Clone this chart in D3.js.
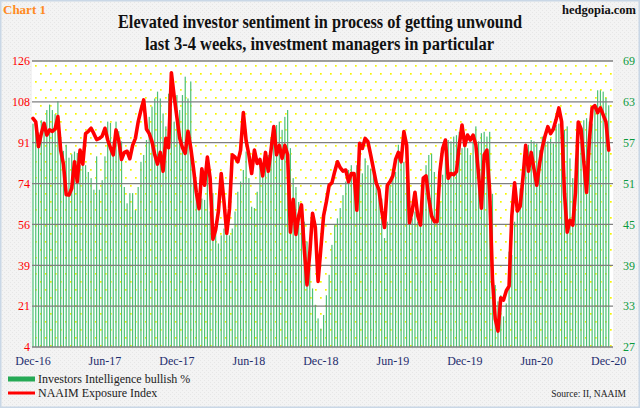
<!DOCTYPE html>
<html><head><meta charset="utf-8">
<script src="https://cdn.jsdelivr.net/npm/d3@7/dist/d3.min.js"></script>
<style>html,body{margin:0;padding:0;background:#fff;}svg{display:block;}</style>
</head><body>
<svg id="c" width="640" height="408"></svg>
<script>
const xTickLabels = ["Dec-16","Jun-17","Dec-17","Jun-18","Dec-18","Jun-19","Dec-19","Jun-20","Dec-20"];
const xTickIndex = [0,26,52,78,104,130,156,182,208];
const leftTicks = [4,21,39,56,74,91,108,126];
const rightTicks = [27,33,39,45,51,57,63,69];

// Investors Intelligence bullish % (weekly, right axis)
const iiBullish = [
 59.8,59.5,58.5,60.3,60.0,61.8,62.6,61.8,61.2,63.1,
 57.5,55.8,56.7,54.8,55.3,55.7,55.5,53.7,54.2,53.7,
 52.7,51.8,50.1,55.0,50.1,51.5,55.0,60.1,59.9,57.2,
 60.1,58.7,57.2,50.5,48.1,49.6,49.6,47.1,50.5,54.2,
 55.2,57.4,60.8,62.3,63.5,64.5,63.5,61.3,59.4,64.2,
 62.0,60.1,64.0,61.8,64.0,66.7,63.5,66.0,54.5,51.3,
 47.4,48.8,48.6,52.7,46.9,49.6,45.4,42.2,43.4,44.4,
 45.4,43.4,44.4,46.9,49.8,51.3,53.0,55.7,51.8,47.6,
 47.4,49.8,53.7,53.2,53.7,55.2,57.6,58.1,59.6,60.1,
 58.9,60.8,61.8,56.2,51.8,50.5,48.3,46.9,45.4,42.5,
 38.6,35.6,33.2,31.2,29.7,31.7,34.6,37.6,42.0,44.9,
 45.9,47.4,49.3,51.3,53.0,53.7,52.7,53.7,54.0,52.5,
 54.7,53.7,53.2,54.2,51.3,49.8,48.8,43.0,45.4,50.8,
 53.2,52.7,56.7,55.7,54.2,54.7,47.4,45.9,46.9,45.4,
 46.9,50.3,53.7,55.2,55.4,52.7,47.4,48.3,52.3,54.7,
 57.4,57.2,57.9,58.1,58.6,56.2,58.1,56.2,55.2,57.2,
 59.4,57.2,58.4,58.6,57.9,58.6,49.5,36.1,33.7,34.6,
 31.5,33.4,41.0,40.5,45.4,47.4,50.3,51.3,54.2,56.7,
 57.4,57.2,56.9,55.9,57.9,57.4,57.2,57.6,56.9,59.6,
 59.8,59.4,58.9,59.4,54.7,51.8,54.7,57.0,57.2,60.3,
 60.6,60.1,59.8,62.5,64.7,64.7,64.5,63.6,62.5
];

// NAAIM Exposure Index (weekly, left axis)
const naaim = [
 101.5,100,89.5,95,99.4,94.4,96.6,96,97,102.3,
 88,82,69,68.8,71.7,83,74.5,88,82,95,
 96,97.3,95,92.5,93,94,97.3,92.3,89,86,
 96.6,92,84,87,87.5,84.3,90,93,100,105,
 109.4,97,95,91.6,86,82,87,79,93,89,
 121,111,102,93,89,86.6,96,89,80,70,
 63,80,73,85,76,50,54,62,78,66,
 52.5,63,86,85,83,88,104,92,86,78,
 88,82.3,84,77,87,79,88,98,86,90,
 84.5,90,86,53,67,52,60,64.6,46,30.5,
 44,61,55,32,46,60,66,73,74,78.8,
 83,80.5,79,79.5,74.5,78,78,62.4,90.9,88.7,
 93,91.6,86,80,74,71,62,55,73,74.5,
 77,84,87,83,95.9,90,57,62,70,60,
 56,76,77,67.4,60,57.5,57.5,78.8,88.7,92.3,
 76,78,77.5,78.8,90,98.7,90,94.4,92.3,94.4,
 90.2,77.4,63.2,85.9,88,70,33,16,10.8,25,
 24,28,30,60,74,62,64,76,90,79,
 87,80,73,82,89,94,98,95,97,101,
 106,100,70,53,58,56,70,100,97,83,
 70,92,106,107,104,106,103,100,88
];

const svg = d3.select("#c");
const W = 640, H = 408;
const plot = {l: 32, r: 613, t: 61, b: 347};
const defs = svg.append("defs");

const bgp = defs.append("pattern").attr("id","bgp").attr("width",4).attr("height",4).attr("patternUnits","userSpaceOnUse");
bgp.append("rect").attr("width",4).attr("height",4).attr("fill","#f3f3f3");
bgp.append("rect").attr("x",0).attr("y",0).attr("width",1).attr("height",1).attr("fill","#e6e6e6");
bgp.append("rect").attr("x",2).attr("y",2).attr("width",1).attr("height",1).attr("fill","#e6e6e6");

const dp = defs.append("pattern").attr("id","dots").attr("width",10).attr("height",16).attr("patternUnits","userSpaceOnUse").attr("x",plot.l).attr("y",plot.t);
dp.append("rect").attr("width",10).attr("height",16).attr("fill","#ffffff");
dp.append("rect").attr("x",3).attr("y",4).attr("width",1.7).attr("height",1.7).attr("fill","#f5f500");
dp.append("rect").attr("x",8).attr("y",12).attr("width",1.7).attr("height",1.7).attr("fill","#f5f500");

svg.append("rect").attr("width",W).attr("height",H).attr("fill","url(#bgp)");
svg.append("rect").attr("x",0.75).attr("y",0.75).attr("width",W-1.5).attr("height",H-1.5)
  .attr("fill","none").attr("stroke","#c9d7e6").attr("stroke-width",1.5);

svg.append("rect").attr("x",plot.l).attr("y",plot.t).attr("width",plot.r-plot.l).attr("height",plot.b-plot.t).attr("fill","url(#dots)");

const n = iiBullish.length;
const x = d3.scaleBand().domain(d3.range(n)).range([31.6, 610.1]);
const cx = i => x(i) + x.bandwidth()/2;
const yL = d3.scaleLinear().domain([4,126]).range([plot.b, plot.t]);
const yR = d3.scaleLinear().domain([27,69]).range([plot.b, plot.t]);

// bars
svg.append("g").selectAll("rect").data(iiBullish).join("rect")
  .attr("x",(d,i)=>cx(i)-0.6).attr("width",1.2)
  .attr("y",d=>yR(d)).attr("height",d=>plot.b-yR(d))
  .attr("fill","#4cc075");

// gridlines
const leftVals = d3.range(leftTicks.length).map(k => 4 + k*(126-4)/(leftTicks.length-1));
svg.append("g").selectAll("line").data(leftVals).join("line")
  .attr("x1",plot.l).attr("x2",plot.r).attr("y1",d=>yL(d)).attr("y2",d=>yL(d))
  .attr("stroke","#7f7f7f").attr("stroke-width",1.3);

// line
svg.append("path").datum(naaim)
  .attr("d", d3.line().x((d,i)=>cx(i)).y(d=>yL(d)))
  .attr("fill","none").attr("stroke","#ff0000").attr("stroke-width",3.6)
  .attr("stroke-linejoin","round").attr("stroke-linecap","round");

const font = "'Liberation Serif','Times New Roman',serif";

// left axis
const gl = svg.append("g").attr("transform",`translate(${plot.l-1},0)`)
  .call(d3.axisLeft(yL).tickValues(leftVals).tickFormat((d,k)=>leftTicks[k]).tickSize(0).tickPadding(1));
gl.select(".domain").remove();
gl.selectAll("text").attr("fill","#ff0000").style("font-family",font).style("font-size","12px");

// right axis
const rightVals = d3.range(rightTicks.length).map(k => 27 + k*(69-27)/(rightTicks.length-1));
const gr = svg.append("g").attr("transform",`translate(${plot.r},0)`)
  .call(d3.axisRight(yR).tickValues(rightVals).tickFormat((d,k)=>rightTicks[k]).tickSize(0).tickPadding(10));
gr.select(".domain").remove();
gr.selectAll("text").attr("fill","#0a9a3c").style("font-family",font).style("font-size","12px");

// x axis
const gx = svg.append("g").attr("transform",`translate(0,${plot.b})`)
  .call(d3.axisBottom(x).tickValues(xTickIndex).tickFormat((d,k)=>xTickLabels[k]).tickSize(0).tickPadding(9));
gx.select(".domain").remove();
gx.selectAll("text").attr("fill","#1f2d6e").style("font-family",font).style("font-size","12px");

// titles
svg.append("text").attr("x",3).attr("y",14).text("Chart 1")
  .attr("fill","#ff8a1e").style("font-family",font).style("font-weight","bold").style("font-size","13px");
svg.append("text").attr("x",636).attr("y",14).attr("text-anchor","end").text("hedgopia.com")
  .attr("fill","#111").style("font-family",font).style("font-weight","bold").style("font-size","12.5px");
svg.append("text").attr("x",118).attr("y",28).attr("textLength",404).attr("lengthAdjust","spacingAndGlyphs")
  .text("Elevated investor sentiment in process of getting unwound")
  .attr("fill","#111").style("font-family",font).style("font-weight","bold").style("font-size","18px");
svg.append("text").attr("x",145).attr("y",50).attr("textLength",349).attr("lengthAdjust","spacingAndGlyphs")
  .text("last 3-4 weeks, investment managers in particular")
  .attr("fill","#111").style("font-family",font).style("font-weight","bold").style("font-size","18px");

// legend
svg.append("rect").attr("x",8).attr("y",376.5).attr("width",27).attr("height",5).attr("fill","#25a955");
svg.append("text").attr("x",38).attr("y",383).text("Investors Intelligence bullish %")
  .attr("fill","#222").style("font-family",font).style("font-size","12px");
svg.append("line").attr("x1",8).attr("x2",35).attr("y1",393).attr("y2",393).attr("stroke","#ff0000").attr("stroke-width",3);
svg.append("text").attr("x",38).attr("y",397).text("NAAIM Exposure Index")
  .attr("fill","#222").style("font-family",font).style("font-size","12px");
svg.append("text").attr("x",626).attr("y",397).attr("text-anchor","end").text("Source: II, NAAIM")
  .attr("fill","#222").style("font-family",font).style("font-size","9.5px");
</script>
</body></html>
